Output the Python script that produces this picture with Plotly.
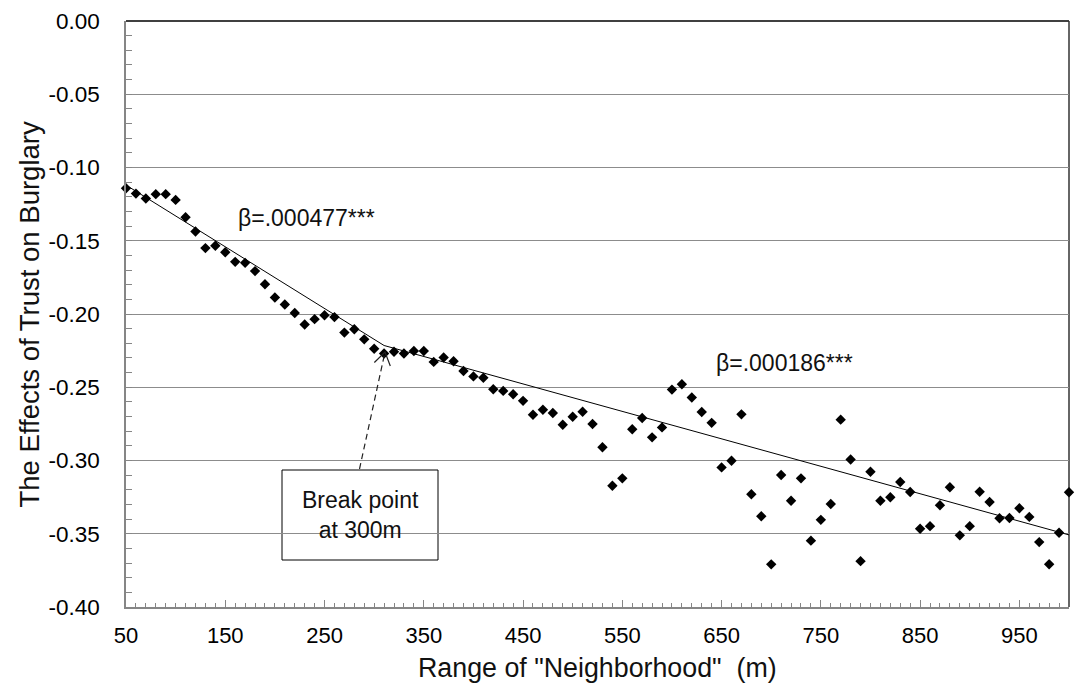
import math
import plotly.graph_objects as go

# ---- data ----
range_m = [50, 60, 70, 80, 90, 100, 110, 120, 130, 140, 150, 160, 170, 180, 190, 200,
           210, 220, 230, 240, 250, 260, 270, 280, 290, 300, 310, 320, 330, 340, 350,
           360, 370, 380, 390, 400, 410, 420, 430, 440, 450, 460, 470, 480, 490, 500,
           510, 520, 530, 540, 550, 560, 570, 580, 590, 600, 610, 620, 630, 640, 650,
           660, 670, 680, 690, 700, 710, 720, 730, 740, 750, 760, 770, 780, 790, 800,
           810, 820, 830, 840, 850, 860, 870, 880, 890, 900, 910, 920, 930, 940, 950,
           960, 970, 980, 990, 1000]
effect = [-0.1142, -0.1178, -0.1212, -0.1182, -0.1182, -0.1221, -0.1340, -0.1437,
          -0.1550, -0.1534, -0.1579, -0.1644, -0.1651, -0.1707, -0.1797, -0.1887,
          -0.1935, -0.1993, -0.2072, -0.2035, -0.2009, -0.2021, -0.2127, -0.2104,
          -0.2173, -0.2237, -0.2270, -0.2258, -0.2270, -0.2253, -0.2253, -0.2327,
          -0.2297, -0.2323, -0.2389, -0.2426, -0.2435, -0.2514, -0.2525, -0.2548,
          -0.2593, -0.2688, -0.2654, -0.2676, -0.2756, -0.2701, -0.2667, -0.2751,
          -0.2910, -0.3172, -0.3122, -0.2787, -0.2710, -0.2842, -0.2774, -0.2516,
          -0.2480, -0.2570, -0.2669, -0.2743, -0.3047, -0.3002, -0.2685, -0.3230,
          -0.3381, -0.3709, -0.3099, -0.3275, -0.3122, -0.3547, -0.3405, -0.3297,
          -0.2721, -0.2993, -0.3687, -0.3077, -0.3275, -0.3251, -0.3147, -0.3215,
          -0.3466, -0.3448, -0.3305, -0.3183, -0.3511, -0.3448, -0.3213, -0.3283,
          -0.3394, -0.3392, -0.3326, -0.3385, -0.3557, -0.3708, -0.3493, -0.3217]

fit1_x = [50, 310]
fit1_y = [-0.1120, -0.2215]
fit2_x = [310, 1000]
fit2_y = [-0.2215, -0.3508]

x_tick_vals = [50, 150, 250, 350, 450, 550, 650, 750, 850, 950]
y_tick_vals = [0.0, -0.05, -0.10, -0.15, -0.20, -0.25, -0.30, -0.35, -0.40]
y_tick_text = ["0.00", "-0.05", "-0.10", "-0.15", "-0.20", "-0.25", "-0.30", "-0.35", "-0.40"]

# ---- layout geometry ----
W, H = 1081, 697
L, R, T, B = 126, 12, 21, 90
PW, PH = W - L - R, H - T - B
FONT = "Liberation Sans, Arial, sans-serif"


def px(xp):  # pixel -> paper x
    return (xp - L) / PW


def py(yp):  # pixel -> paper y
    return (H - B - yp) / PH


fig = go.Figure()
fig.add_trace(go.Scatter(x=fit1_x, y=fit1_y, mode="lines",
                         line=dict(color="black", width=1), showlegend=False,
                         hoverinfo="skip"))
fig.add_trace(go.Scatter(x=fit2_x, y=fit2_y, mode="lines",
                         line=dict(color="black", width=1), showlegend=False,
                         hoverinfo="skip"))
fig.add_trace(go.Scatter(x=range_m, y=effect, mode="markers",
                         marker=dict(symbol="diamond", size=8, color="black",
                                     line=dict(width=0)),
                         cliponaxis=False, showlegend=False))

shapes = []
# top and right borders
shapes.append(dict(type="line", xref="paper", yref="paper", x0=0, x1=1, y0=1, y1=1,
                   line=dict(color="black", width=1.5), layer="between"))
shapes.append(dict(type="line", xref="paper", yref="paper", x0=1, x1=1, y0=0, y1=1,
                   line=dict(color="#333333", width=1.5), layer="between"))
# break point box
shapes.append(dict(type="rect", xref="paper", yref="paper",
                   x0=px(282), x1=px(438), y0=py(560), y1=py(470),
                   line=dict(color="black", width=1), fillcolor="white", layer="between"))
# dashed arrow shaft
tipx, tipy = 385.0, 352.0
sx, sy = 359.5, 469.0
shapes.append(dict(type="line", xref="paper", yref="paper",
                   x0=px(sx), y0=py(sy), x1=px(tipx), y1=py(tipy),
                   line=dict(color="#222222", width=1.2, dash="6px,4px"), layer="above"))
# open arrowhead
dx, dy = sx - tipx, sy - tipy
n = math.hypot(dx, dy)
bx, by = dx / n, dy / n
wing = 15
pts = []
for ang in (math.radians(33), math.radians(-33)):
    wx = bx * math.cos(ang) - by * math.sin(ang)
    wy = bx * math.sin(ang) + by * math.cos(ang)
    pts.append((tipx + wing * wx, tipy + wing * wy))
path = "M {:.5f},{:.5f} L {:.5f},{:.5f} L {:.5f},{:.5f}".format(
    px(pts[0][0]), py(pts[0][1]), px(tipx), py(tipy), px(pts[1][0]), py(pts[1][1]))
shapes.append(dict(type="path", xref="paper", yref="paper", path=path,
                   line=dict(color="#222222", width=1.2), layer="above"))

annotations = [
    dict(text="β=.000477***", xref="paper", yref="paper", x=px(306.5), y=py(218),
         xanchor="center", yanchor="middle", showarrow=False,
         font=dict(family=FONT, size=23, color="#111111")),
    dict(text="β=.000186***", xref="paper", yref="paper", x=px(784), y=py(363),
         xanchor="center", yanchor="middle", showarrow=False,
         font=dict(family=FONT, size=23, color="#111111")),
    dict(text="Break point<br>at 300m", xref="paper", yref="paper", x=px(360), y=py(515),
         xanchor="center", yanchor="middle", showarrow=False, align="center",
         font=dict(family=FONT, size=23, color="#111111")),
    dict(text='Range of "Neighborhood"  (m)', xref="paper", yref="paper",
         x=px(597.5), y=py(668), xanchor="center", yanchor="middle", showarrow=False,
         font=dict(family=FONT, size=26.8, color="#111111")),
    dict(text="The Effects of Trust on Burglary", xref="paper", yref="paper",
         x=px(28.5), y=py(315), xanchor="center", yanchor="middle", showarrow=False,
         textangle=-90, font=dict(family=FONT, size=27.5, color="#111111")),
]

fig.update_layout(
    width=W, height=H,
    margin=dict(l=L, r=R, t=T, b=B, autoexpand=False),
    paper_bgcolor="white", plot_bgcolor="white",
    font=dict(family=FONT, size=22, color="black"),
    shapes=shapes, annotations=annotations,
    xaxis=dict(range=[50, 1000], tickvals=x_tick_vals, ticks="inside", ticklen=7,
               tickcolor="#868686", showline=True, linecolor="#868686", linewidth=1.5,
               showgrid=False, zeroline=False, ticklabelstandoff=8, automargin=False,
               tickfont=dict(family=FONT, size=22, color="black"),
               minor=dict(dtick=10, tick0=50, ticks="inside", ticklen=4,
                          tickcolor="#868686", showgrid=False)),
    yaxis=dict(range=[-0.40, 0.0], tickvals=y_tick_vals, ticktext=y_tick_text,
               ticks="inside", ticklen=6, tickcolor="#868686",
               showline=True, linecolor="#868686", linewidth=1.5,
               showgrid=True, gridcolor="#8c8c8c", gridwidth=1, zeroline=False,
               ticklabelstandoff=20, automargin=False,
               tickfont=dict(family=FONT, size=22.5, color="black"),
               minor=dict(dtick=0.01, tick0=0, ticks="inside", ticklen=6,
                          tickcolor="#868686", showgrid=False)),
)

fig.write_html("out.html",
               config={"displayModeBar": False},
               post_script="document.body.style.margin='0px';"
                           "document.body.style.overflow='hidden';")
